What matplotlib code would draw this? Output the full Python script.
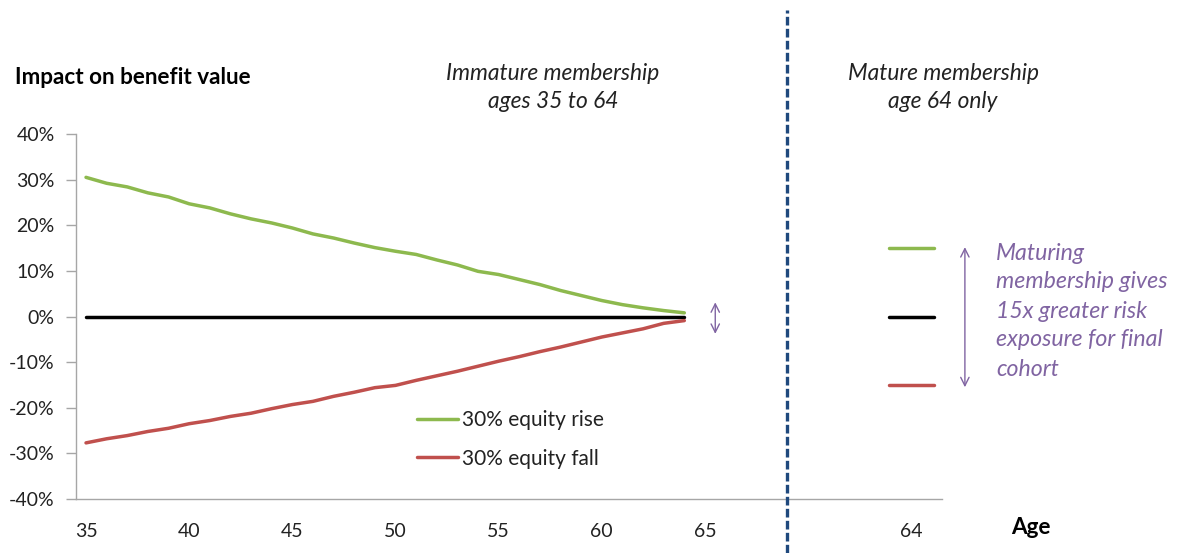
import matplotlib
matplotlib.use("Agg")
import matplotlib.pyplot as plt
from matplotlib.lines import Line2D
from matplotlib.transforms import blended_transform_factory

# ---- data -------------------------------------------------------------
ages = list(range(35, 65))
equity_rise = [30.5, 29.2, 28.4, 27.1, 26.2, 24.7, 23.8, 22.5, 21.4, 20.5,
               19.4, 18.1, 17.2, 16.1, 15.1, 14.3, 13.6, 12.4, 11.3, 9.9,
               9.2, 8.1, 7.0, 5.7, 4.6, 3.5, 2.6, 1.9, 1.3, 0.8]
equity_fall = [-27.7, -26.8, -26.1, -25.2, -24.5, -23.5, -22.8, -21.9, -21.2, -20.2,
               -19.3, -18.6, -17.5, -16.6, -15.6, -15.1, -14.0, -13.0, -12.0, -10.9,
               -9.8, -8.8, -7.7, -6.7, -5.6, -4.5, -3.6, -2.7, -1.5, -0.9]
baseline = [0.0] * len(ages)

mature_age_label = "64"
mature_rise = 15.0
mature_base = 0.0
mature_fall = -15.0

x_tick_ages = [35, 40, 45, 50, 55, 60, 65]
y_ticks = [-40, -30, -20, -10, 0, 10, 20, 30, 40]

# ---- layout -----------------------------------------------------------
MATURE_POS = 75          # category slot used for the mature cohort
DIVIDER_POS = 69         # slot of the dashed divider
HALF_W = 1.1             # half width of the mature cohort bars

GREEN = "#8DB94E"
RED = "#C0504D"
BLACK = "#000000"
PURPLE = "#8064A2"
NAVY = "#1F497D"
GREY = "#A6A6A6"
TXT = "#222222"

FONT = "Lato"
plt.rcParams["font.family"] = [FONT, "DejaVu Sans"]

W, H = 1177, 553
fig = plt.figure(figsize=(W / 100, H / 100), dpi=100)
ax = fig.add_axes([75.7 / W, 1 - 499 / H, (942.2 - 75.7) / W, (499 - 134) / H])

lw = 2.5
l_rise, = ax.plot(ages, equity_rise, color=GREEN, lw=lw, solid_capstyle="round",
                  label="30% equity rise")
l_fall, = ax.plot(ages, equity_fall, color=RED, lw=lw, solid_capstyle="round",
                  label="30% equity fall")
ax.plot(ages, baseline, color=BLACK, lw=lw, solid_capstyle="round", zorder=1)

for v, c in [(mature_rise, GREEN), (mature_base, BLACK), (mature_fall, RED)]:
    ax.plot([MATURE_POS - HALF_W, MATURE_POS + HALF_W], [v, v], color=c, lw=lw,
            solid_capstyle="round")

ax.set_xlim(34.5, 76.5)
ax.set_ylim(-40, 40)

ax.set_yticks(y_ticks)
ax.set_yticklabels([f"{t}%" for t in y_ticks])
ax.set_xticks(x_tick_ages + [MATURE_POS])
ax.set_xticklabels([str(a) for a in x_tick_ages] + [mature_age_label])

for s in ["top", "right"]:
    ax.spines[s].set_visible(False)
for s in ["left", "bottom"]:
    ax.spines[s].set_color(GREY)
    ax.spines[s].set_linewidth(1.0)

TICK_FS = 14
ax.tick_params(axis="y", direction="out", length=7, width=1, color=GREY,
               pad=8, labelsize=TICK_FS, labelcolor=TXT)
ax.tick_params(axis="x", length=0, pad=17, labelsize=TICK_FS, labelcolor=TXT)

# legend
LEG_FS = 15
leg = ax.legend(handles=[l_rise, l_fall], loc="upper left",
                bbox_to_anchor=(417 / W, 1 - 410 / H), bbox_transform=fig.transFigure,
                frameon=False, fontsize=LEG_FS, handlelength=1.95, handletextpad=0.2,
                labelspacing=0.9, borderaxespad=0, borderpad=0)
for t in leg.get_texts():
    t.set_color(TXT)

# dashed divider spanning the full figure height
tr = blended_transform_factory(ax.transData, fig.transFigure)
fig.add_artist(Line2D([DIVIDER_POS, DIVIDER_POS], [0, 1 - 10 / H], transform=tr,
                      color=NAVY, lw=2.4, linestyle=(0, (2.6, 1.0))))

# range arrows
arrow_style = "<->, head_length=0.6, head_width=0.3"
ax.annotate("", xy=(65.5, 3.1), xytext=(65.5, -3.8),
            arrowprops=dict(arrowstyle=arrow_style, color=PURPLE, lw=1.0,
                            shrinkA=0, shrinkB=0),
            annotation_clip=False)
ax.annotate("", xy=(77.6, 15.2), xytext=(77.6, -15.5),
            arrowprops=dict(arrowstyle=arrow_style, color=PURPLE, lw=1.0,
                            shrinkA=0, shrinkB=0),
            annotation_clip=False)

# texts
def ftext(x, y, s, **kw):
    fig.text(x / W, 1 - y / H, s, **kw)

HEAD_FS = 16.2
IT_FS = 16.4
ftext(15, 77, "Impact on benefit value", fontsize=HEAD_FS, fontweight="bold",
      color="#000000", ha="left", va="center")
ftext(553, 74, "Immature membership", fontsize=IT_FS, style="italic", color=TXT,
      ha="center", va="center")
ftext(553, 102, "ages 35 to 64", fontsize=IT_FS, style="italic", color=TXT,
      ha="center", va="center")
ftext(943, 73, "Mature membership", fontsize=IT_FS, style="italic", color=TXT,
      ha="center", va="center")
ftext(943, 102, "age 64 only", fontsize=IT_FS, style="italic", color=TXT,
      ha="center", va="center")
ftext(1031, 527, "Age", fontsize=HEAD_FS, fontweight="bold", color="#000000",
      ha="center", va="center")

note = ["Maturing", "membership gives", "15x greater risk",
        "exposure for final", "cohort"]
for i, line in enumerate(note):
    ftext(996, 253 + 29 * i, line, fontsize=16.7, style="italic", color=PURPLE,
          ha="left", va="center")

fig.savefig("out.png", dpi=100, facecolor="white")
